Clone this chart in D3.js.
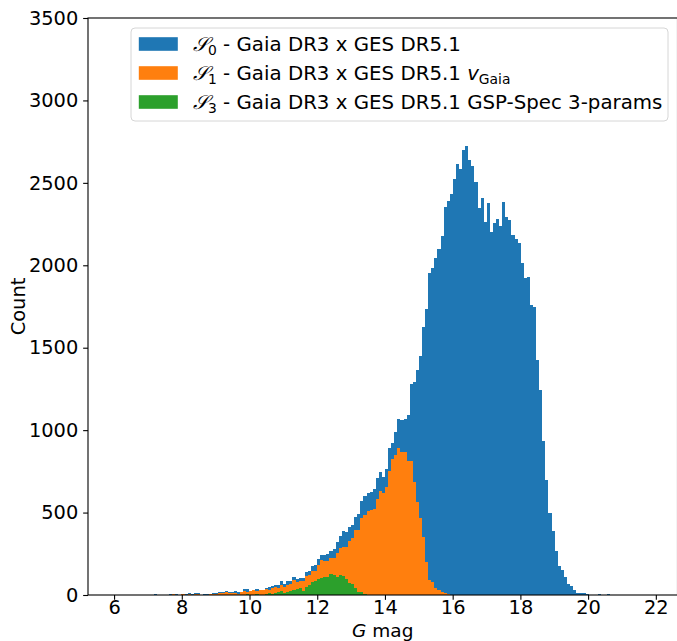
<!DOCTYPE html>
<html><head><meta charset="utf-8">
<script src="https://cdn.jsdelivr.net/npm/d3@7"></script>
<style>
body{margin:0;background:#fff;}
svg{display:block;font-family:"DejaVu Sans",sans-serif;}
</style>
</head><body>
<svg id="chart" width="677" height="641"></svg>
<script>
// Histogram bins (G mag)
const binStart = 5.985;
const binWidth = 0.0911;

// S0 - Gaia DR3 x GES DR5.1 (counts per bin)
const countsS0 = [
  1,0,0,0,0,0,0,0,0,0,
  0,0,0,6,0,0,0,0,6,0,
  6,0,0,6,12,6,12,12,0,6,
  6,6,12,12,18,18,24,18,18,24,
  18,18,36,36,24,30,36,30,30,42,
  48,55,61,61,85,67,85,85,109,97,
  103,103,140,146,176,182,218,243,243,249,
  267,279,321,358,388,382,412,425,473,491,
  570,600,619,625,643,710,746,716,764,890,
  920,987,1066,1062,1066,1092,1280,1290,1365,1450,
  1626,1735,1951,1983,2044,2099,2176,2353,2388,2432,
  2523,2614,2586,2699,2723,2638,2605,2507,2349,2408,
  2265,2378,2200,2256,2281,2238,2384,2293,2275,2184,
  2159,2135,2014,1923,1929,1759,1747,1425,1243,934,
  698,497,388,267,176,152,109,67,55,30,
  10,12,12,6,3,0,0,6,0,0,
  6,0,0,0,0,0,0,0,0,0,
  0,0,0,0,1
];
// S1 - Gaia DR3 x GES DR5.1 v_Gaia
const countsS1 = [
  0,0,0,0,0,0,0,0,0,0,
  0,0,0,0,0,0,0,0,0,6,
  0,0,6,0,6,0,6,6,0,0,
  0,6,6,6,12,12,18,12,12,12,
  6,18,24,18,24,30,24,30,30,36,
  30,42,48,42,61,48,61,67,91,79,
  85,85,115,121,146,146,182,212,206,206,
  224,224,255,285,291,291,327,346,394,394,
  467,485,510,516,522,582,631,619,655,755,
  825,850,892,867,867,813,813,687,566,469,
  354,200,91,79,44,30,20,12,6,3,
  0,0,0,0,0,0,0,0,0,0,
  0,0,0,0,0,0,0,0,0,0,
  0,0,0,0,0,0,0,0,0,0,
  0,0,0,0,0,0,0,0,0,0,
  0,0,0,0,0,0,0,0,0,0,
  0,0,0,0,0,0,0,0,0,0,
  0,0,0,0,0
];
// S3 - Gaia DR3 x GES DR5.1 GSP-Spec 3-params
const countsS3 = [
  0,0,0,0,0,0,0,0,0,0,
  0,0,0,0,0,0,0,0,0,0,
  0,0,0,0,0,0,0,0,0,0,
  0,0,0,0,0,0,0,0,0,0,
  0,0,3,6,0,0,6,3,3,6,
  12,6,12,18,24,12,18,24,30,36,
  42,24,48,61,79,85,97,103,109,109,
  127,121,112,121,115,97,73,67,42,18,
  18,6,0,0,0,0,0,0,0,0,
  0,0,0,0,0,0,0,0,0,0,
  0,0,0,0,0,0,0,0,0,0,
  0,0,0,0,0,0,0,0,0,0,
  0,0,0,0,0,0,0,0,0,0,
  0,0,0,0,0,0,0,0,0,0,
  0,0,0,0,0,0,0,0,0,0,
  0,0,0,0,0,0,0,0,0,0,
  0,0,0,0,0,0,0,0,0,0,
  0,0,0,0,0
];

const xTicks = [6, 8, 10, 12, 14, 16, 18, 20, 22];
const yTicks = [0, 500, 1000, 1500, 2000, 2500, 3000, 3500];
const seriesColors = ["#1f77b4", "#ff7f0e", "#2ca02c"];
const seriesSub = ["0", "1", "3"];
const seriesText = [" - Gaia DR3 x GES DR5.1", " - Gaia DR3 x GES DR5.1 ", " - Gaia DR3 x GES DR5.1 GSP-Spec 3-params"];
const xLabel = ["G", " mag"];
const yLabel = "Count";

const series = [countsS0, countsS1, countsS3];

const svg = d3.select("#chart");
const FS = 19.4;
const LFS = 19.8;

const x = d3.scaleLinear().domain([5.23, 22.64]).range([88, 677.5]);
const y = d3.scaleLinear().domain([0, 3500]).range([595, 18]);

// bars
series.forEach((counts, k) => {
  const data = counts.map((c, i) => ({c, i})).filter(d => d.c > 0);
  svg.append("g")
    .selectAll("rect").data(data).join("rect")
    .attr("x", d => x(binStart + d.i * binWidth))
    .attr("width", d => x(binStart + (d.i + 1) * binWidth) - x(binStart + d.i * binWidth))
    .attr("y", d => y(d.c))
    .attr("height", d => y(0) - y(d.c))
    .attr("fill", seriesColors[k])
    .attr("shape-rendering", "crispEdges");
});

// axes
const tickLen = 4.86, tickPad = 4.86;
const xAxis = svg.append("g").attr("transform", `translate(0,${y(0)})`)
  .call(d3.axisBottom(x).tickValues(xTicks).tickSize(tickLen).tickPadding(tickPad).tickFormat(d3.format("d")));
const yAxis = svg.append("g").attr("transform", `translate(${x.range()[0]},0)`)
  .call(d3.axisLeft(y).tickValues(yTicks).tickSize(tickLen).tickPadding(tickPad).tickFormat(d3.format("d")));
[xAxis, yAxis].forEach(a => {
  a.select(".domain").remove();
  a.selectAll(".tick line").attr("stroke", "#000").attr("stroke-width", 1.1);
  a.selectAll(".tick text").attr("fill", "#000").attr("font-size", FS).attr("font-family", "DejaVu Sans");
});
xAxis.selectAll(".tick text").attr("dy", "0.5em");

// frame
svg.append("rect")
  .attr("x", x.range()[0]).attr("y", y.range()[1])
  .attr("width", x.range()[1] - x.range()[0]).attr("height", y.range()[0] - y.range()[1])
  .attr("fill", "none").attr("stroke", "#000").attr("stroke-width", 1.1);

// axis labels
const xl = svg.append("text").attr("x", (x.range()[0] + x.range()[1]) / 2).attr("y", 636.5)
  .attr("text-anchor", "middle").attr("font-size", 18.5);
xl.append("tspan").attr("font-style", "italic").text(xLabel[0]);
xl.append("tspan").text(xLabel[1]);

svg.append("text").attr("transform", `translate(25,${(y.range()[0] + y.range()[1]) / 2}) rotate(-90)`)
  .attr("text-anchor", "middle").attr("font-size", FS).text(yLabel);

// legend
const lg = svg.append("g");
lg.append("rect").attr("x", 131).attr("y", 28).attr("width", 537).attr("height", 93)
  .attr("rx", 4).attr("fill", "#fff").attr("fill-opacity", 0.8)
  .attr("stroke", "#d6d6d6").attr("stroke-width", 1);
const rowY = [44, 73, 102];
seriesColors.forEach((c, k) => {
  lg.append("rect").attr("x", 138.8).attr("y", rowY[k] - 6.8).attr("width", 39).attr("height", 13.6).attr("fill", c);
  const t = lg.append("text").attr("x", 193).attr("y", rowY[k] + 7).attr("font-size", LFS);
  t.append("tspan").attr("font-family", "DejaVu Serif").attr("font-style", "italic").text("𝒮");
  t.append("tspan").attr("font-size", LFS * 0.7).attr("dy", 4).text(seriesSub[k]);
  t.append("tspan").attr("dy", -4).text(seriesText[k]);
  if (k === 1) {
    t.append("tspan").attr("font-style", "italic").text("v");
    t.append("tspan").attr("font-size", LFS * 0.7).attr("dy", 4).text("Gaia");
  }
});
</script>
</body></html>
